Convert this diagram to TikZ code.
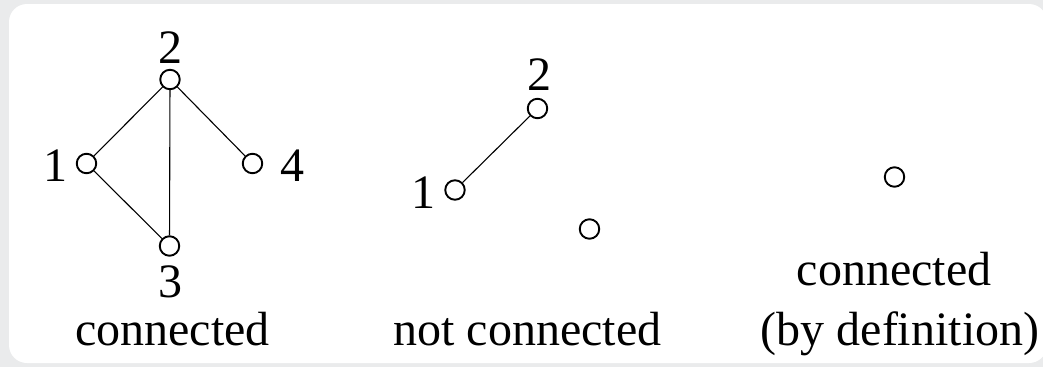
\documentclass[tikz,border=0pt]{standalone}
\usepackage{fontspec}
\setmainfont{Liberation Serif}
\definecolor{bggray}{RGB}{234,235,236}
\begin{document}
\begin{tikzpicture}[x=1pt,y=-1pt,
  vert/.style={circle,draw=black,line width=1.9pt,minimum size=19.5pt,inner sep=0pt,fill=white},
  edge/.style={draw=black,line width=1.1pt},
  lab/.style={anchor=base,inner sep=0pt,font=\fontsize{48}{60}\selectfont}]
\useasboundingbox (0,0) rectangle (1043,367);
\clip (0,0) rectangle (1043,367);
\fill[bggray] (0,0) rectangle (1043,367);
\fill[white,rounded corners=18pt] (9,4) rectangle (1047,363);
% left graph
\node[vert] (a1) at (86.5,163.5) {};
\node[vert] (a2) at (170,79.5) {};
\node[vert] (a3) at (169.5,246) {};
\node[vert] (a4) at (252.5,163.5) {};
\draw[edge] (a2) -- (a1);
\draw[edge] (a2) -- (a3);
\draw[edge] (a2) -- (a4);
\draw[edge] (a1) -- (a3);
\node[lab] (l2) at (170,63) {2};
\node[lab] (l1) at (55,181) {1};
\node[lab] (l4) at (292,181) {4};
\node[lab] (l3) at (170,297) {3};
\node[lab] (c1) at (172.5,345) {connected};
% middle graph
\node[vert] (b1) at (455,190) {};
\node[vert] (b2) at (537.5,108.5) {};
\node[vert] (b3) at (589.5,229) {};
\draw[edge] (b1) -- (b2);
\node[lab] (m2) at (539,90) {2};
\node[lab] (m1) at (423,208) {1};
\node[lab] (c2) at (527.5,345) {not connected};
% right graph
\node[vert] (r1) at (894.5,177) {};
\node[lab] (c3) at (894,285) {connected};
\node[lab] (c4) at (900,345) {(by definition)};
\end{tikzpicture}
\end{document}
